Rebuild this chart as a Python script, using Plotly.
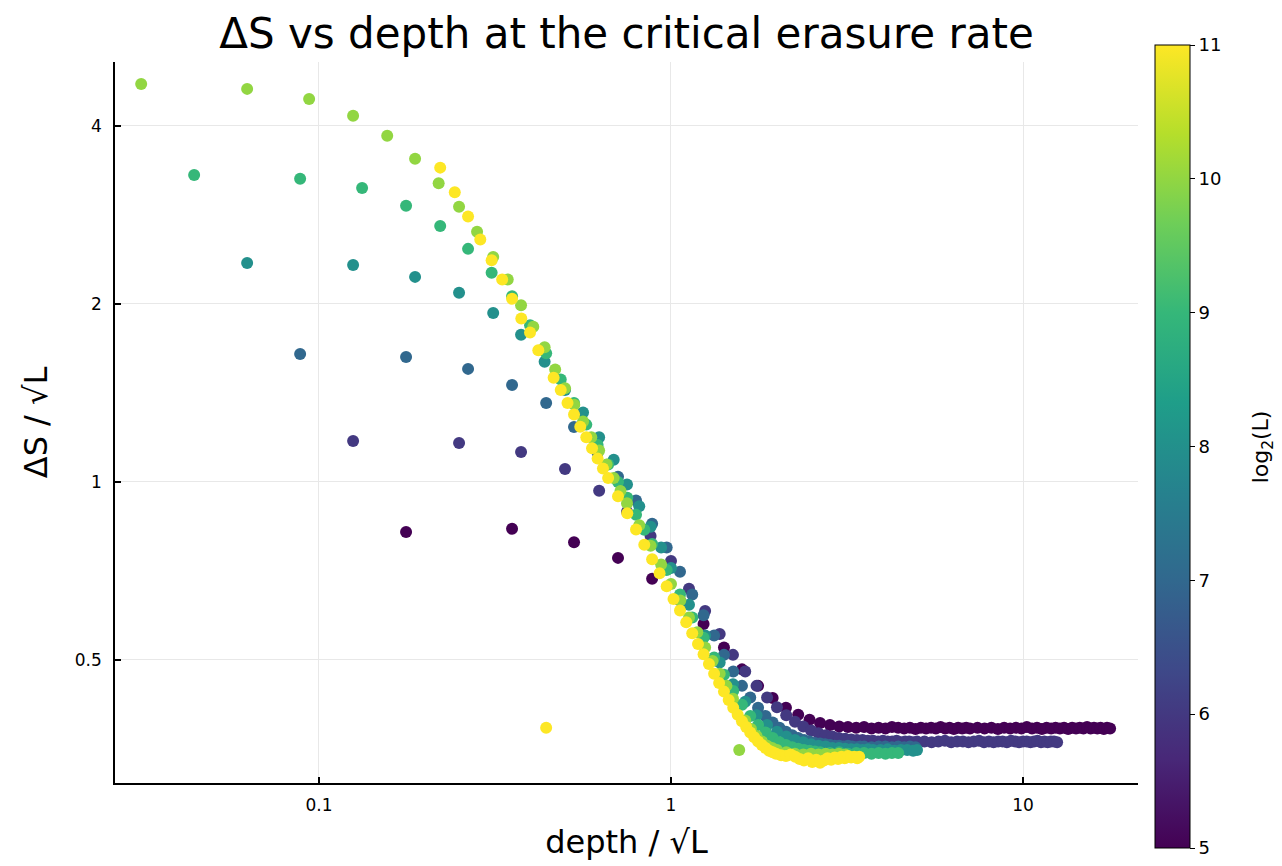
import numpy as np
import plotly.graph_objects as go

# log2(L) for each system size
L_EXP = [5, 6, 7, 8, 9, 10, 11]

# ---- L = 32 ----
depth_L32 = list(range(1, 41)) + list(range(42, 101, 2))
ds_L32 = [0.823, 0.833, 0.791, 0.744, 0.686, 0.630, 0.575, 0.525, 0.482, 0.452,
          0.431, 0.415, 0.404, 0.396, 0.391, 0.388, 0.386, 0.385, 0.384, 0.385,
          0.383, 0.384, 0.383, 0.385, 0.384, 0.383, 0.384, 0.382, 0.384, 0.383,
          0.384, 0.383, 0.385, 0.383, 0.384, 0.382, 0.384, 0.383, 0.384, 0.383,
          0.384, 0.383, 0.384, 0.382, 0.384, 0.383, 0.384, 0.383, 0.385, 0.383,
          0.384, 0.382, 0.384, 0.383, 0.384, 0.383, 0.384, 0.382, 0.384, 0.383,
          0.384, 0.383, 0.385, 0.383, 0.384, 0.383, 0.384, 0.382, 0.384, 0.383]

# ---- L = 64 ----
depth_L64 = list(range(1, 41)) + list(range(42, 101, 2))
ds_L64 = [1.173, 1.164, 1.124, 1.052, 0.966, 0.890, 0.810, 0.735, 0.660, 0.605,
          0.553, 0.510, 0.478, 0.452, 0.432, 0.416, 0.403, 0.393, 0.386, 0.380,
          0.376, 0.373, 0.371, 0.369, 0.368, 0.367, 0.366, 0.366, 0.365, 0.365,
          0.364, 0.365, 0.364, 0.364, 0.365, 0.363, 0.364, 0.364, 0.363, 0.364,
          0.364, 0.363, 0.364, 0.365, 0.363, 0.364, 0.364, 0.363, 0.364, 0.365,
          0.363, 0.364, 0.363, 0.364, 0.364, 0.363, 0.365, 0.364, 0.363, 0.364,
          0.364, 0.363, 0.364, 0.365, 0.363, 0.364, 0.363, 0.364, 0.364, 0.363]

# ---- L = 128 ----
depth_L128 = list(range(1, 41)) + list(range(42, 57, 2))
ds_L128 = [1.646, 1.627, 1.553, 1.459, 1.360, 1.239, 1.120, 1.020, 0.930, 0.850,
           0.775, 0.705, 0.645, 0.595, 0.550, 0.510, 0.478, 0.452, 0.432, 0.415,
           0.402, 0.392, 0.384, 0.378, 0.373, 0.369, 0.366, 0.364, 0.362, 0.361,
           0.360, 0.359, 0.358, 0.358, 0.357, 0.358, 0.357, 0.356, 0.357, 0.357,
           0.356, 0.357, 0.357, 0.356, 0.357, 0.356, 0.357, 0.356]

# ---- L = 256 ----
depth_L256 = list(range(1, 17)) + list(range(18, 61, 2)) + [63, 66, 69, 72, 75, 78, 80]
ds_L256 = [2.346, 2.328, 2.222, 2.088, 1.931, 1.773, 1.596, 1.430, 1.310, 1.190,
           1.090, 0.990, 0.910, 0.840, 0.775, 0.715,
           0.620, 0.550, 0.495, 0.455, 0.425, 0.403, 0.388, 0.378, 0.371, 0.366,
           0.363, 0.360, 0.358, 0.357, 0.355, 0.355, 0.354, 0.353, 0.353, 0.352,
           0.353, 0.352,
           0.352, 0.353, 0.351, 0.352, 0.352, 0.351, 0.352]

# ---- L = 512 ----
depth_L512 = list(range(1, 21)) + list(range(22, 61, 2)) + list(range(64, 101, 4))
ds_L512 = [3.305, 3.255, 3.142, 2.930, 2.710, 2.478, 2.257, 2.060, 1.840, 1.650,
           1.490, 1.360, 1.250, 1.155, 1.070, 1.000, 0.940, 0.880, 0.830, 0.785,
           0.710, 0.645, 0.590, 0.545, 0.505, 0.472, 0.443, 0.420, 0.402, 0.388,
           0.377, 0.369, 0.363, 0.359, 0.356, 0.354, 0.352, 0.351, 0.350, 0.349,
           0.348, 0.349, 0.347, 0.348, 0.348, 0.347, 0.348, 0.347, 0.348, 0.348]

# ---- L = 1024 ----
depth_L1024 = (list(range(1, 25)) + list(range(26, 49, 2)) + [50]
               + list(range(52, 65, 2)) + list(range(68, 101, 4)))
ds_L1024 = [4.71, 4.62, 4.44, 4.16, 3.85, 3.52, 3.20, 2.92, 2.65, 2.40,
            2.20, 1.99, 1.83, 1.69, 1.55, 1.44, 1.35, 1.265, 1.19, 1.13,
            1.07, 1.015, 0.965, 0.920,
            0.845, 0.780, 0.725, 0.672, 0.630, 0.590, 0.557, 0.525, 0.498, 0.474,
            0.452, 0.430,
            0.352,
            0.395, 0.382, 0.372, 0.364, 0.358, 0.355, 0.352,
            0.349, 0.347, 0.346, 0.347, 0.346, 0.347, 0.346, 0.347, 0.346]

# ---- L = 2048 ----
depth_L2048 = list(range(10, 31)) + list(range(32, 91, 2)) + list(range(93, 154, 3)) + [155]
ds_L2048 = [3.40, 3.09, 2.81, 2.57, 2.37, 2.20, 2.04, 1.89, 1.79, 1.67,
            0.384, 1.50, 1.43, 1.36, 1.30, 1.24, 1.19, 1.14, 1.095, 1.054, 1.015,
            0.946, 0.885, 0.831, 0.783, 0.740, 0.701, 0.666, 0.634, 0.606, 0.579,
            0.555, 0.532, 0.511, 0.492, 0.474, 0.457, 0.442, 0.428, 0.415, 0.404,
            0.394, 0.385, 0.377, 0.370, 0.364, 0.359, 0.355, 0.351, 0.349, 0.347,
            0.345, 0.344, 0.346, 0.343, 0.340, 0.338, 0.341, 0.336, 0.339, 0.335,
            0.338, 0.341, 0.339, 0.342, 0.340, 0.343, 0.341, 0.344, 0.342, 0.343,
            0.341, 0.343]

SERIES = [
    (5, depth_L32, ds_L32),
    (6, depth_L64, ds_L64),
    (7, depth_L128, ds_L128),
    (8, depth_L256, ds_L256),
    (9, depth_L512, ds_L512),
    (10, depth_L1024, ds_L1024),
    (11, depth_L2048, ds_L2048),
]

X_TICKS = [0.1, 1, 10]
X_TICKTEXT = ["0.1", "1", "10"]
Y_TICKS = [0.5, 1, 2, 4]
Y_TICKTEXT = ["0.5", "1", "2", "4"]
CB_TICKS = [5, 6, 7, 8, 9, 10, 11]

FONT = "DejaVu Sans"

fig = go.Figure()
for exp, dep, ds in SERIES:
    assert len(dep) == len(ds), (exp, len(dep), len(ds))
    L = 2 ** exp
    x = np.array(dep, dtype=float) / np.sqrt(L)
    fig.add_trace(go.Scatter(
        x=x, y=ds, mode="markers",
        marker=dict(size=12, color=[exp] * len(dep), coloraxis="coloraxis",
                    line=dict(width=0)),
        showlegend=False, name=f"L=2^{exp}",
    ))

axis_common = dict(
    type="log", showgrid=True, gridcolor="#e8e8e8", gridwidth=1,
    showline=True, linecolor="black", linewidth=1.5, mirror=False,
    ticks="inside", ticklen=6, tickwidth=1.5, tickcolor="black",
    zeroline=False, tickfont=dict(family=FONT, size=17, color="black"),
)

fig.update_layout(
    width=1282, height=866,
    margin=dict(l=115, r=144, t=62, b=83),
    paper_bgcolor="white", plot_bgcolor="white",
    font=dict(family=FONT, color="black"),
    title=dict(text="ΔS vs depth at the critical erasure rate",
               x=0.5, xref="paper", xanchor="center",
               y=1 - 33 / 866, yref="container", yanchor="middle",
               font=dict(family=FONT, size=42, color="black")),
    xaxis=dict(axis_common, range=[-1.5795, 1.3267],
               tickvals=X_TICKS, ticktext=X_TICKTEXT, ticklabelstandoff=6,
               title=dict(text="depth / √L", font=dict(family=FONT, size=32),
                          standoff=16)),
    yaxis=dict(axis_common, range=[-0.5091, 0.7101],
               tickvals=Y_TICKS, ticktext=Y_TICKTEXT, ticklabelstandoff=8,
               title=dict(text="ΔS / √L", font=dict(family=FONT, size=32),
                          standoff=18)),
    coloraxis=dict(
        colorscale="Viridis", cmin=5, cmax=11,
        colorbar=dict(
            thickness=35, thicknessmode="pixels",
            len=803, lenmode="pixels",
            x=1.0166, xanchor="left", xref="paper",
            y=0.4667, yanchor="middle", yref="paper",
            xpad=0, ypad=0,
            outlinewidth=1, outlinecolor="black",
            ticks="outside", ticklen=5, tickcolor="black",
            tickvals=CB_TICKS,
            tickfont=dict(family=FONT, size=18, color="black"),
        ),
    ),
    annotations=[dict(
        text="log<sub>2</sub>(L)", textangle=-90,
        x=1.122, y=0.4667, xref="paper", yref="paper",
        xanchor="center", yanchor="middle", showarrow=False,
        font=dict(family=FONT, size=22, color="black"),
    )],
)

fig.write_html("out.html",
               config={"displayModeBar": False},
               post_script="document.body.style.margin='0px';")
